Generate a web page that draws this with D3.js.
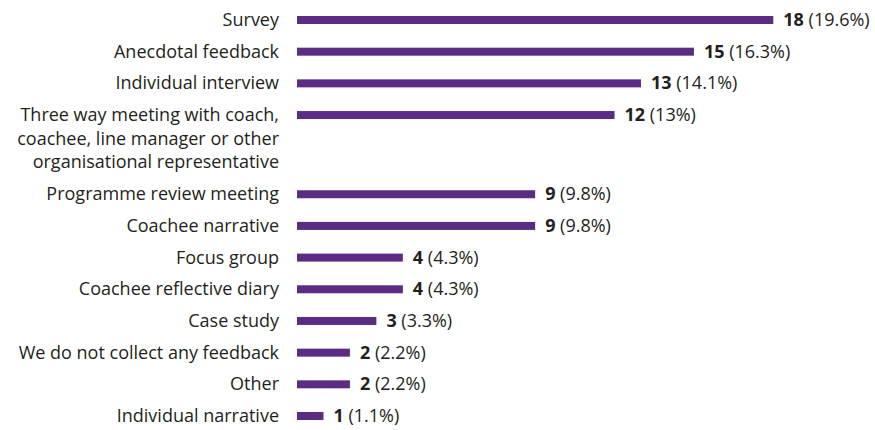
<!DOCTYPE html>
<html>
<head>
<meta charset="utf-8">
<script src="https://cdn.jsdelivr.net/npm/d3@7"></script>
<style>
  html, body { margin: 0; padding: 0; background: #fff; }
  svg { display: block; }
  text { font-family: "Open Sans", "Noto Sans", sans-serif; fill: #231f20; }
</style>
</head>
<body>
<svg id="chart" width="875" height="430"></svg>
<script>
const categories = [
  ["Survey"],
  ["Anecdotal feedback"],
  ["Individual interview"],
  ["Three way meeting with coach,", "coachee, line manager or other", "organisational representative"],
  ["Programme review meeting"],
  ["Coachee narrative"],
  ["Focus group"],
  ["Coachee reflective diary"],
  ["Case study"],
  ["We do not collect any feedback"],
  ["Other"],
  ["Individual narrative"]
];
const counts = [18, 15, 13, 12, 9, 9, 4, 4, 3, 2, 2, 1];
const percents = ["19.6%", "16.3%", "14.1%", "13%", "9.8%", "9.8%", "4.3%", "4.3%", "3.3%", "2.2%", "2.2%", "1.1%"];

const svg = d3.select("#chart");
const barColor = "#5b2c83";
const fontSize = 18;

// slot positions: multi-line labels take extra vertical room
let slots = [];
let acc = 0;
categories.forEach((c, i) => {
  slots.push(acc);
  acc += 1 + (c.length - 1) * 0.75;
});
const lastSlot = slots[slots.length - 1];

const y = d3.scaleLinear().domain([0, lastSlot]).range([20, 416]);
const x = d3.scaleLinear().domain([0, 18]).range([297, 773.3]);

const barH = 8;

const rows = svg.append("g").selectAll("g")
  .data(counts.map((v, i) => ({ v, i, label: categories[i], pct: percents[i] })))
  .join("g");

rows.append("rect")
  .attr("x", x(0))
  .attr("y", d => y(slots[d.i]) - barH / 2)
  .attr("width", d => x(d.v) - x(0))
  .attr("height", barH)
  .attr("fill", barColor);

rows.each(function(d) {
  const g = d3.select(this);
  const t = g.append("text")
    .attr("text-anchor", "end")
    .attr("font-size", fontSize);
  d.label.forEach((line, k) => {
    t.append("tspan")
      .attr("x", 279)
      .attr("y", y(slots[d.i]) + 6 + k * 23.5)
      .text(line);
  });
  const vt = g.append("text")
    .attr("x", x(d.v) + 10)
    .attr("y", y(slots[d.i]) + 6)
    .attr("font-size", fontSize);
  vt.append("tspan").attr("font-weight", "bold").text(d.v);
  vt.append("tspan").text(" (" + d.pct + ")");
});
</script>
</body>
</html>
